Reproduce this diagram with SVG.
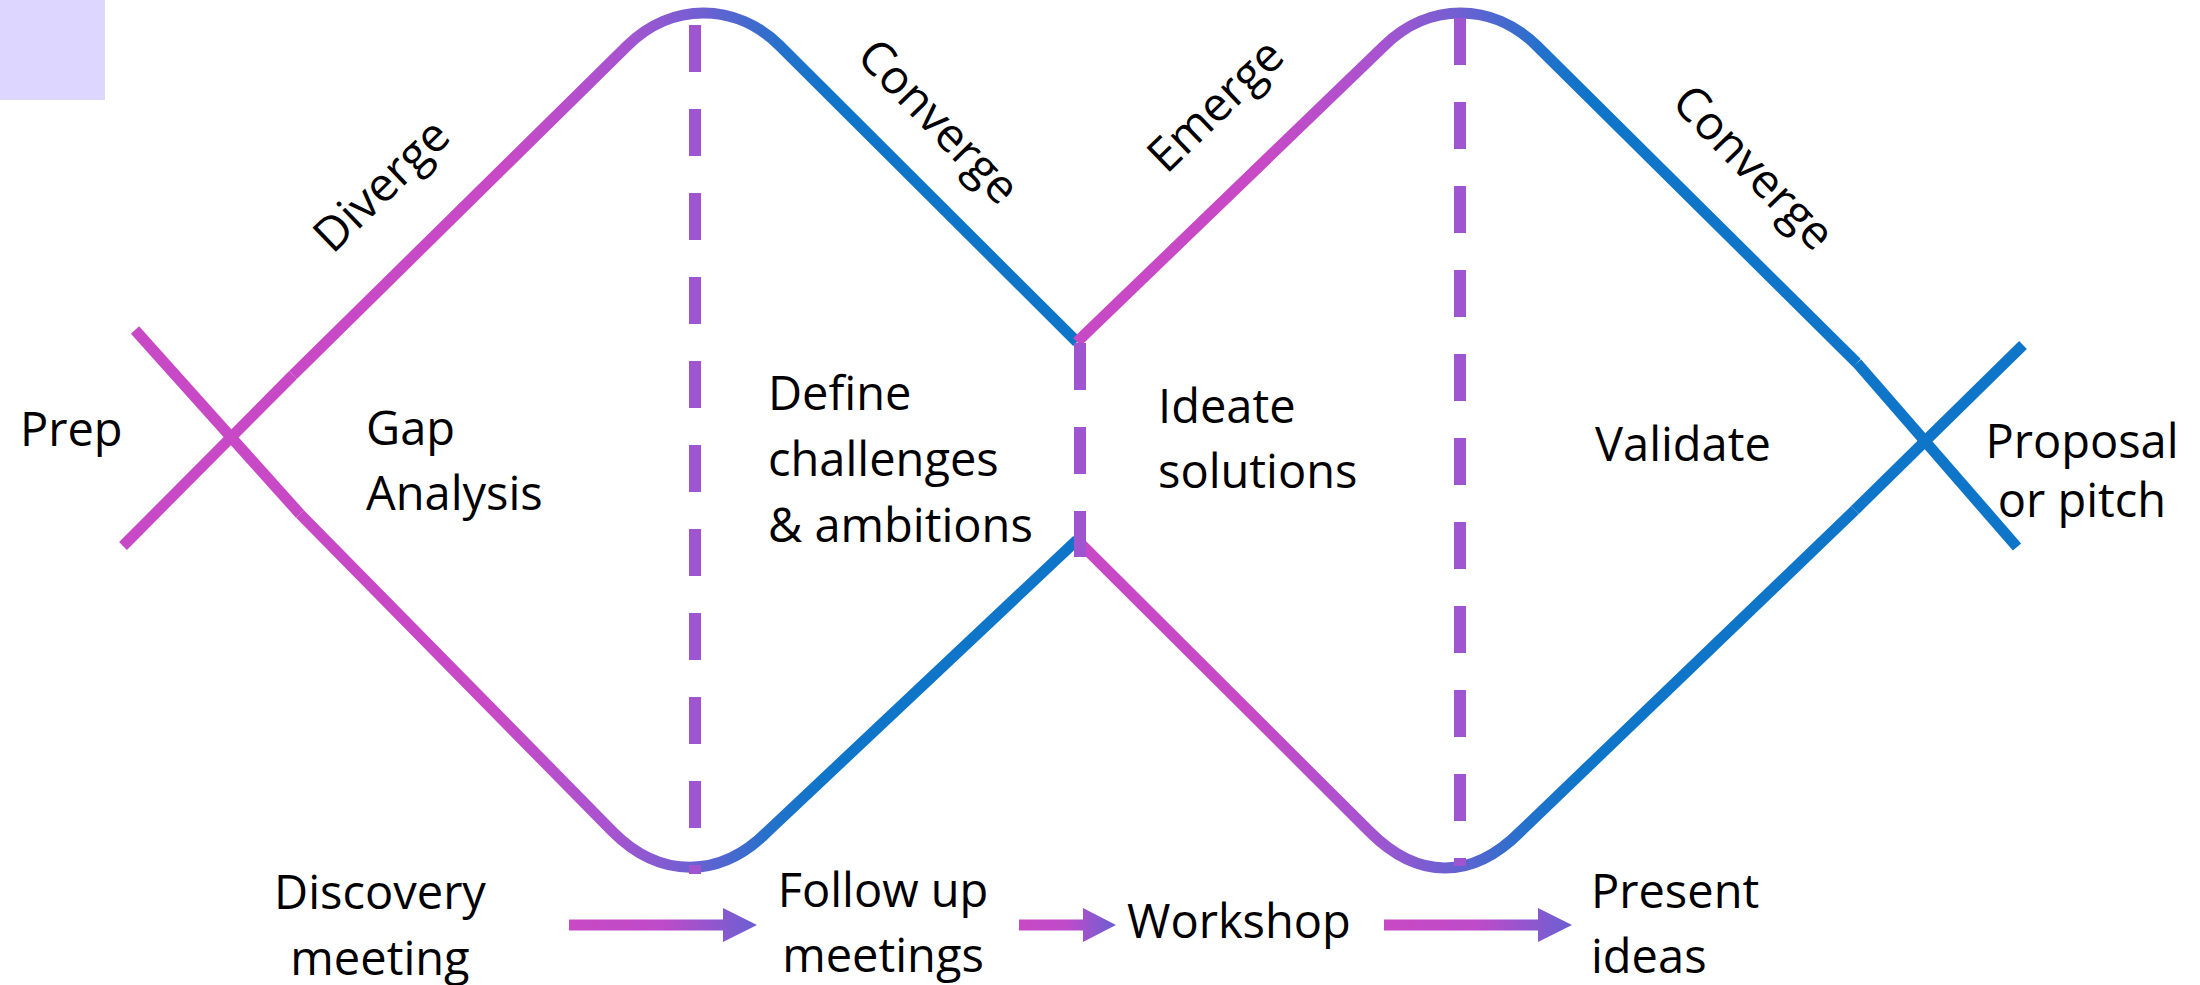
<svg xmlns="http://www.w3.org/2000/svg" xmlns:xlink="http://www.w3.org/1999/xlink" width="2200" height="985" viewBox="0 0 2200 985">
  <defs>
    <style>
      .lbl { font-family: "Open Sans", "Noto Sans", "DejaVu Sans", sans-serif; font-size: 47px; fill: #000; }
      .mid { text-anchor: middle; }
      .arch { fill: none; stroke-width: 11; stroke-linejoin: round; stroke-linecap: butt; }
      .pink { fill: none; stroke: #C849C5; stroke-width: 11; stroke-linecap: butt; }
      .blue { fill: none; stroke: #0E75C8; stroke-width: 11; stroke-linecap: butt; }
      .split { fill: none; stroke: #9E55CF; stroke-width: 12; stroke-dasharray: 47 37; stroke-linecap: butt; }
    </style>
    <!-- pink-to-blue blend centred on x=0; each arch shifts it to its apex -->
    <linearGradient id="blend" gradientUnits="userSpaceOnUse" x1="-400" y1="0" x2="400" y2="0">
      <stop offset="0.25" stop-color="#C849C5"/>
      <stop offset="0.40" stop-color="#A853CF"/>
      <stop offset="0.50" stop-color="#6E60D2"/>
      <stop offset="0.60" stop-color="#2471CB"/>
      <stop offset="0.665" stop-color="#0E75C8"/>
    </linearGradient>
    <linearGradient id="blendA" href="#blend" xlink:href="#blend" gradientTransform="translate(703 0)"/>
    <linearGradient id="blendB" href="#blend" xlink:href="#blend" gradientTransform="translate(690 0)"/>
    <linearGradient id="blendC" href="#blend" xlink:href="#blend" gradientTransform="translate(1460 0)"/>
    <linearGradient id="blendD" href="#blend" xlink:href="#blend" gradientTransform="translate(1445 0)"/>
    <linearGradient id="arrowFill" x1="0" y1="0" x2="1" y2="0">
      <stop offset="0" stop-color="#C849C5"/>
      <stop offset="0.5" stop-color="#BE4BC9"/>
      <stop offset="1" stop-color="#6A60D2"/>
    </linearGradient>
  </defs>

  <rect width="2200" height="985" fill="#FFFFFF"/>

  <g id="swatch">
    <rect x="0" y="0" width="105" height="100" fill="#DDD6FE"/>
  </g>

  <g id="connectors">
    <!-- left cross -->
    <path class="pink" d="M135,330 L300,514"/>
    <path class="pink" d="M123,546 L293,375"/>
    <!-- double diamond arches -->
    <path class="arch" stroke="url(#blendA)" d="M293,375 L627,46 C671,2 736,2 780,46 L1077,342"/>
    <path class="arch" stroke="url(#blendB)" d="M300,514 L613,832 C660,879 720,879 767,832 L1077,540"/>
    <path class="arch" stroke="url(#blendC)" d="M1077,342 L1384,46 C1428,2 1493,2 1537,46 L1857,363"/>
    <path class="arch" stroke="url(#blendD)" d="M1077,540 L1370,832 C1418,880 1472,880 1520,832 L1855,510"/>
    <!-- right cross -->
    <path class="blue" d="M2023,345 L1855,510"/>
    <path class="blue" d="M1857,363 L2017,547"/>
    <!-- phase dividers -->
    <path class="split" d="M695,25 V874"/>
    <path class="split" d="M1080,343 V557"/>
    <path class="split" d="M1460,18 V866"/>
    <!-- step arrows -->
    <path fill="url(#arrowFill)" d="M569,919.5 H723 V908 L757,925 L723,942 V930.5 H569 Z"/>
    <path fill="url(#arrowFill)" d="M1019,919.5 H1083 V908 L1116,925 L1083,942 V930.5 H1019 Z"/>
    <path fill="url(#arrowFill)" d="M1384,919.5 H1538 V908 L1572,925 L1538,942 V930.5 H1384 Z"/>
  </g>

  <g id="phase-diverge"><text class="lbl mid" transform="translate(385 189) rotate(-44)" y="11">Diverge</text></g>
  <g id="phase-converge-1"><text class="lbl mid" transform="translate(935 125) rotate(46)" y="11">Converge</text></g>
  <g id="phase-emerge"><text class="lbl mid" transform="translate(1219 109) rotate(-44)" y="11">Emerge</text></g>
  <g id="phase-converge-2"><text class="lbl mid" transform="translate(1750 171) rotate(46)" y="11">Converge</text></g>

  <g id="stage-prep"><text class="lbl" x="20" y="446">Prep</text></g>
  <g id="stage-gap"><text class="lbl" x="366" y="445">Gap</text><text class="lbl" x="366" y="510">Analysis</text></g>
  <g id="stage-define"><text class="lbl" x="768" y="410">Define</text><text class="lbl" x="768" y="476">challenges</text><text class="lbl" x="768" y="542">&amp; ambitions</text></g>
  <g id="stage-ideate"><text class="lbl" x="1158" y="423">Ideate</text><text class="lbl" x="1158" y="488">solutions</text></g>
  <g id="stage-validate"><text class="lbl" x="1595" y="461">Validate</text></g>
  <g id="stage-proposal"><text class="lbl mid" x="2082" y="458">Proposal</text><text class="lbl mid" x="2082" y="517">or pitch</text></g>

  <g id="step-discovery"><text class="lbl mid" x="380" y="909">Discovery</text><text class="lbl mid" x="380" y="975">meeting</text></g>
  <g id="step-followup"><text class="lbl mid" x="883" y="907">Follow up</text><text class="lbl mid" x="883" y="972">meetings</text></g>
  <g id="step-workshop"><text class="lbl" x="1127" y="938">Workshop</text></g>
  <g id="step-present"><text class="lbl" x="1591" y="908">Present</text><text class="lbl" x="1591" y="973">ideas</text></g>
</svg>
